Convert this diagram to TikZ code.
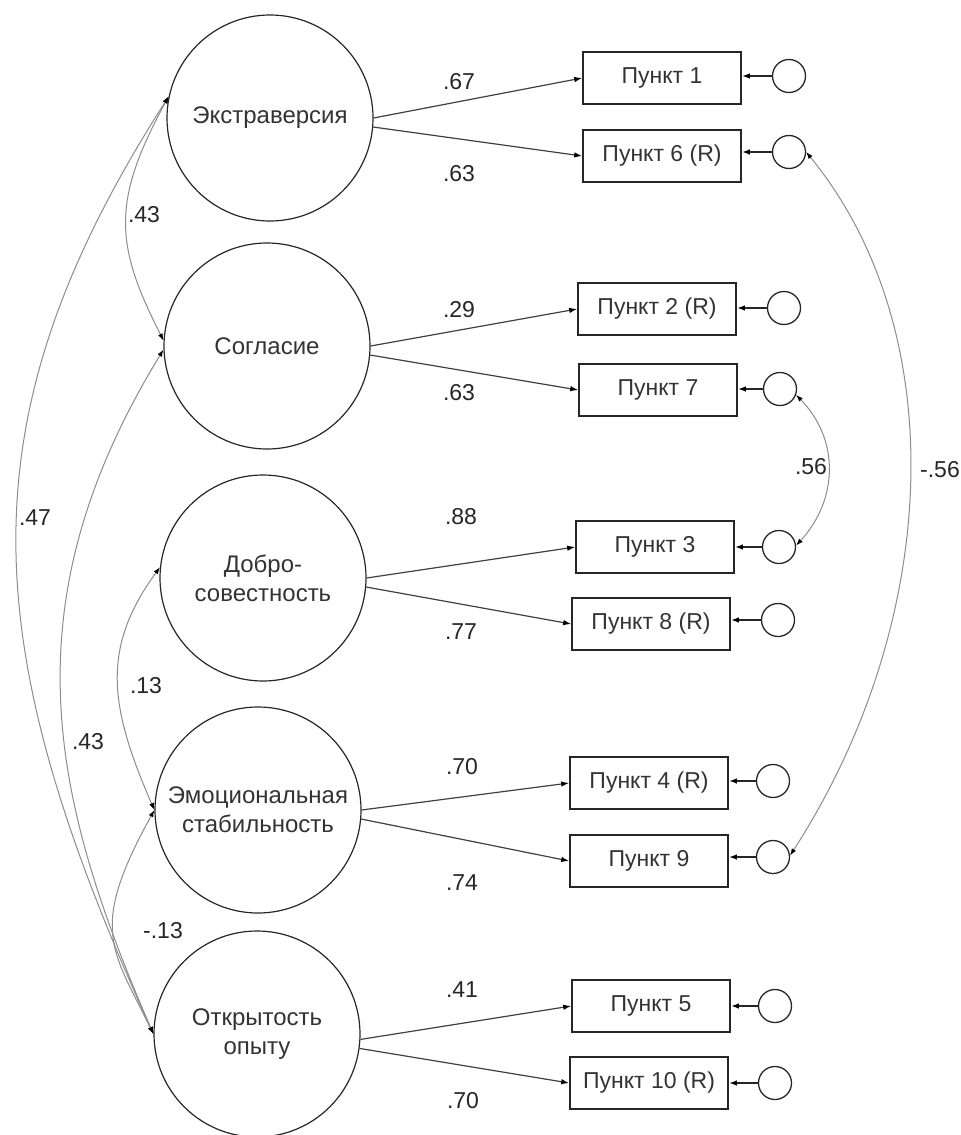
\documentclass[tikz,border=0pt]{standalone}
\usepackage{fontspec}
\setmainfont{Liberation Sans}
\usetikzlibrary{arrows.meta}
\begin{document}
\begin{tikzpicture}[x=1pt,y=-1pt,
  latent/.style={circle,draw=black!85,line width=1.2pt,minimum size=206pt,inner sep=0pt,align=center,font=\fontsize{24}{29}\selectfont,text=black!80},
  item/.style={rectangle,draw=black!85,line width=1.6pt,minimum width=158pt,minimum height=52pt,inner sep=0pt,font=\fontsize{23}{28}\selectfont,text=black!80},
  err/.style={circle,draw=black!85,line width=1.3pt,minimum size=33pt,inner sep=0pt},
  tip/.style={-{Latex[length=8pt,width=5.5pt,color=black]}},
  load/.style={draw=black!75,line width=1.2pt,tip},
  erra/.style={draw=black!85,line width=1.6pt,tip},
  cov/.style={draw=black!45,line width=1pt,{Latex[length=7pt,width=5pt,color=black]}-{Latex[length=7pt,width=5pt,color=black]}},
  lbl/.style={font=\fontsize{23}{28}\selectfont,inner sep=0pt,text=black!85}
]
\useasboundingbox (0,0) rectangle (961,1135);

% latent factors
\node[latent] (ext) at (270,118) {Экстраверсия};
\node[latent] (agr) at (267,346) {Согласие};
\node[latent] (con) at (263,578) {Добро-\\совестность};
\node[latent] (emo) at (258,810) {Эмоциональная\\стабильность};
\node[latent] (opn) at (257,1034) {Открытость\\опыту};

% items
\node[item] (i1) at (662,78) {Пункт 1};
\node[item] (i6) at (662,156) {Пункт 6 (R)};
\node[item] (i2) at (657,309) {Пункт 2 (R)};
\node[item] (i7) at (658,390) {Пункт 7};
\node[item] (i3) at (655,547) {Пункт 3};
\node[item] (i8) at (651,624) {Пункт 8 (R)};
\node[item] (i4) at (649,783) {Пункт 4 (R)};
\node[item] (i9) at (649,861) {Пункт 9};
\node[item] (i5) at (651,1006) {Пункт 5};
\node[item] (i10) at (649,1083) {Пункт 10 (R)};

% error terms
\node[err] (e1) at (789,76) {};
\node[err] (e6) at (789,152) {};
\node[err] (e2) at (784,308) {};
\node[err] (e7) at (780,389) {};
\node[err] (e3) at (779,547) {};
\node[err] (e8) at (778,620) {};
\node[err] (e4) at (773,781) {};
\node[err] (e9) at (773,857) {};
\node[err] (e5) at (775,1006) {};
\node[err] (e10) at (775,1083) {};

% error arrows
\foreach \e/\i in {e1/i1,e6/i6,e2/i2,e7/i7,e3/i3,e8/i8,e4/i4,e9/i9,e5/i5,e10/i10}
  \draw[erra] (\e.west) -- (\e.west -| \i.east);

% loadings
\draw[load] (ext.0) -- (i1.west);
\draw[load] (ext.-5) -- (i6.west);
\draw[load] (agr.0) -- (i2.west);
\draw[load] (agr.-5) -- (i7.west);
\draw[load] (con.0) -- (i3.west);
\draw[load] (con.-5) -- (i8.west);
\draw[load] (emo.0) -- (i4.west);
\draw[load] (emo.-5) -- (i9.west);
\draw[load] (opn.-3) -- (i5.west);
\draw[load] (opn.-8) -- (i10.west);

\node[lbl] (l1) at (459,82) {.67};
\node[lbl] (l6) at (459,174) {.63};
\node[lbl] (l2) at (459,310) {.29};
\node[lbl] (l7) at (459,393) {.63};
\node[lbl] (l3) at (461,517) {.88};
\node[lbl] (l8) at (461,632) {.77};
\node[lbl] (l4) at (462,767) {.70};
\node[lbl] (l9) at (462,883) {.74};
\node[lbl] (l5) at (462,990) {.41};
\node[lbl] (l10) at (463,1101) {.70};

% factor covariances
\draw[cov] (ext.168) .. controls (111,202) and (115,245) .. (agr.177);
\draw[cov] (ext.168) .. controls (-39,421) and (-24,643) .. (opn.180);
\draw[cov] (agr.182) .. controls (6,607) and (52,800) .. (opn.180);
\draw[cov] (con.174) .. controls (101,648) and (109,706) .. (emo.180);
\draw[cov] (emo.180) .. controls (88,930) and (112,949) .. (opn.180);

\node[lbl] (c1) at (144,215) {.43};
\node[lbl] (c2) at (35,518) {.47};
\node[lbl] (c3) at (88,742) {.43};
\node[lbl] (c4) at (146,686) {.13};
\node[lbl] (c5) at (163,931) {-.13};

% error covariances
\draw[cov] (e6.east) .. controls (952,330) and (942,620) .. (e9.5);
\draw[cov] (e7.-20) .. controls (840,440) and (838,500) .. (e3.5);

\node[lbl] (c6) at (811,467) {.56};
\node[lbl] (c7) at (940,470) {-.56};
\end{tikzpicture}
\end{document}
